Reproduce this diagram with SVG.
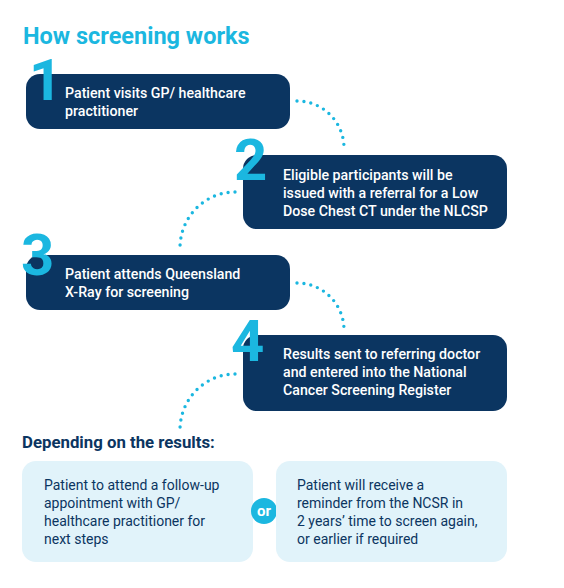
<svg xmlns="http://www.w3.org/2000/svg" width="564" height="588" viewBox="0 0 564 588">
<style>
.nav{fill:#0b3561}
.lt{fill:#e1f3fa}
.t{font-family:Roboto,"Liberation Sans",sans-serif;font-size:14.2px;font-weight:500;fill:#ffffff}
.td{font-family:Roboto,"Liberation Sans",sans-serif;font-size:14px;font-weight:400;fill:#0b3561}
.num{font-family:Roboto,"Liberation Sans",sans-serif;font-size:58px;font-weight:700;fill:#1bb7e0}
.dot{fill:none;stroke:#1bb7e0;stroke-width:3.4;stroke-linecap:round;stroke-dasharray:0 7}
</style>
<rect width="564" height="588" fill="#ffffff"/>
<text x="23" y="44" font-family="Roboto,'Liberation Sans',sans-serif" font-size="23.5" font-weight="700" fill="#1bb7e0">How screening works</text>
<g id="connectors">
<path class="dot" d="M297,101 A47,47 0 0 1 344,148"/>
<path class="dot" d="M235,192 A55,56 0 0 0 180,248"/>
<path class="dot" d="M297,283 A47,47 0 0 1 344,330"/>
<path class="dot" d="M235,374 A55,56 0 0 0 180,430"/>
</g>
<g id="step1">
<rect class="nav" x="26" y="74" width="264" height="55" rx="14"/>
<text class="num" x="29" y="100">1</text>
<text class="t" x="65" y="98">Patient visits GP/ healthcare</text>
<text class="t" x="65" y="116">practitioner</text>
</g>
<g id="step2">
<rect class="nav" x="243" y="155" width="264" height="74" rx="14"/>
<text class="num" x="234" y="180">2</text>
<text class="t" x="283" y="180">Eligible participants will be</text>
<text class="t" x="283" y="198">issued with a referral for a Low</text>
<text class="t" x="283" y="216">Dose Chest CT under the NLCSP</text>
</g>
<g id="step3">
<rect class="nav" x="26" y="255" width="264" height="55" rx="14"/>
<text class="num" x="21" y="275">3</text>
<text class="t" x="65" y="279">Patient attends Queensland</text>
<text class="t" x="65" y="297">X-Ray for screening</text>
</g>
<g id="step4">
<rect class="nav" x="243" y="335" width="264" height="76" rx="14"/>
<text class="num" x="231" y="361">4</text>
<text class="t" x="283" y="359">Results sent to referring doctor</text>
<text class="t" x="283" y="377">and entered into the National</text>
<text class="t" x="283" y="395">Cancer Screening Register</text>
</g>
<text x="22" y="448" font-family="Roboto,'Liberation Sans',sans-serif" font-size="16.8" font-weight="700" fill="#0b3561">Depending on the results:</text>
<g id="outcomeA">
<rect class="lt" x="22" y="461" width="231" height="101" rx="14"/>
<text class="td" x="44" y="490">Patient to attend a follow-up</text>
<text class="td" x="44" y="508">appointment with GP/</text>
<text class="td" x="44" y="526">healthcare practitioner for</text>
<text class="td" x="44" y="544">next steps</text>
</g>
<g id="or">
<circle cx="264" cy="511" r="13" fill="#1bb7e0"/>
<text x="264" y="516" text-anchor="middle" font-family="Roboto,'Liberation Sans',sans-serif" font-size="15" font-weight="700" fill="#ffffff">or</text>
</g>
<g id="outcomeB">
<rect class="lt" x="276" y="461" width="231" height="101" rx="14"/>
<text class="td" x="297" y="490">Patient will receive a</text>
<text class="td" x="297" y="508">reminder from the NCSR in</text>
<text class="td" x="297" y="526">2 years’ time to screen again,</text>
<text class="td" x="297" y="544">or earlier if required</text>
</g>
</svg>
